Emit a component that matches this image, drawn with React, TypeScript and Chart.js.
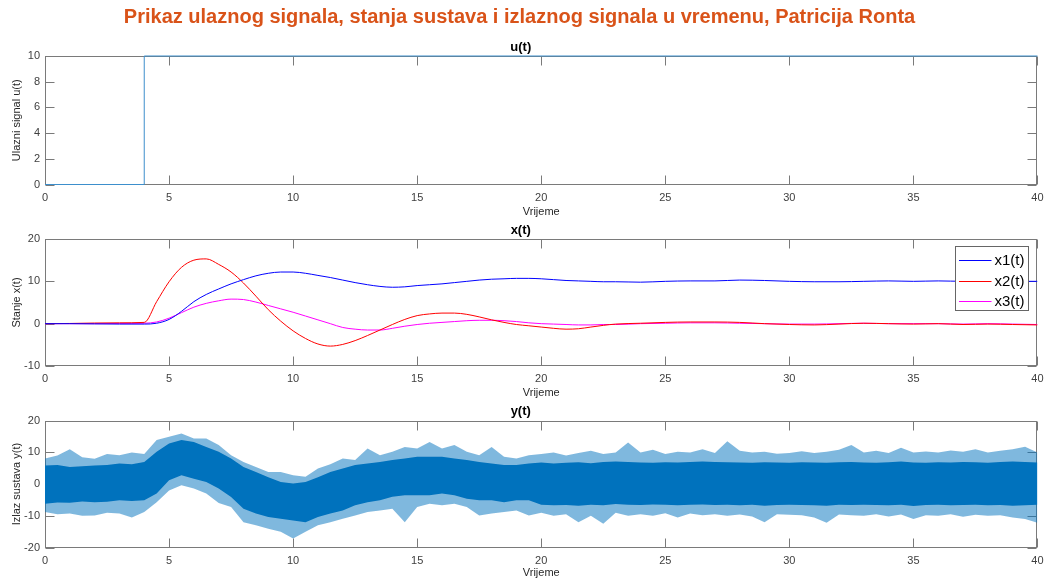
import React, { useEffect, useRef } from 'react';
import { Chart, registerables } from 'chart.js';

Chart.register(...registerables);

const FONT = '"Liberation Sans", Arial, Helvetica, sans-serif';
const MAIN_TITLE = 'Prikaz ulaznog signala, stanja sustava i izlaznog signala u vremenu, Patricija Ronta';
const X_LABEL = 'Vrijeme';
const TICK_COLOR = '#404040';
const LABEL_COLOR = '#262626';
const BOX_COLOR = '#7a7a7a';

// ---- u(t) ----
const tU = [0, 4, 4, 40];
const uVals = [0, 0, 10, 10];

// ---- x(t) ----
const tX = [0, 1, 2, 3, 4, 4.5, 5, 5.5, 6, 6.5, 7, 7.5, 8, 8.5, 9, 9.5, 10, 10.5, 11, 11.5, 12, 12.5, 13, 13.5, 14, 14.5, 15, 15.5, 16, 16.5, 17, 17.5, 18, 18.5, 19, 19.5, 20, 20.5, 21, 21.5, 22, 22.5, 23, 24, 25, 26, 27, 28, 29, 30, 31, 32, 33, 34, 35, 36, 37, 38, 39, 40];
const x1Vals = [0, 0, -0.05, -0.1, -0.1, 0.1, 1.0, 2.9, 5.2, 6.9, 8.2, 9.4, 10.4, 11.3, 11.9, 12.2, 12.2, 11.9, 11.4, 10.9, 10.3, 9.7, 9.2, 8.8, 8.6, 8.7, 9.0, 9.2, 9.4, 9.7, 10.0, 10.3, 10.5, 10.6, 10.7, 10.7, 10.6, 10.4, 10.2, 10.1, 10.0, 9.9, 9.9, 9.8, 10.0, 10.1, 10.1, 10.3, 10.2, 10.0, 9.9, 9.9, 10.0, 10.1, 10.0, 10.1, 10.0, 10.0, 10.0, 10.0];
const x2Vals = [0, 0.05, 0.15, 0.2, 0.3, 5.2, 9.9, 13.3, 15.0, 15.3, 14.0, 12.2, 9.6, 6.5, 3.3, 0.6, -1.7, -3.5, -4.8, -5.3, -4.9, -4.0, -2.8, -1.5, -0.2, 1.0, 1.9, 2.3, 2.5, 2.5, 2.2, 1.6, 0.9, 0.3, -0.2, -0.5, -0.8, -1.1, -1.3, -1.2, -0.8, -0.4, -0.1, 0.1, 0.3, 0.4, 0.4, 0.3, 0.0, -0.2, -0.3, -0.1, 0.1, 0.0, -0.1, 0.0, -0.2, -0.1, -0.2, -0.3];
const x3Vals = [0, 0, 0, 0.05, 0.1, 0.4, 1.3, 2.6, 3.9, 4.8, 5.4, 5.8, 5.7, 5.1, 4.3, 3.5, 2.7, 1.8, 0.9, 0.0, -0.9, -1.3, -1.5, -1.5, -1.1, -0.6, -0.2, 0.1, 0.3, 0.5, 0.7, 0.8, 0.8, 0.7, 0.5, 0.2, 0.0, -0.1, -0.2, -0.3, -0.3, -0.2, -0.2, 0.0, 0.1, 0.2, 0.2, 0.1, 0.0, -0.1, -0.1, 0.0, 0.1, 0.0, 0.0, 0.0, -0.1, 0.0, -0.1, -0.2];
const xSeriesLabels = ['x1(t)', 'x2(t)', 'x3(t)'];

// ---- y(t): noisy output, drawn as dense core band and spike envelope ----
const tY = [0, 0.5, 1, 1.5, 2, 2.5, 3, 3.5, 4, 4.5, 5, 5.5, 6, 6.5, 7, 7.5, 8, 8.5, 9, 9.5, 10, 10.5, 11, 11.5, 12, 12.5, 13, 13.5, 14, 14.5, 15, 15.5, 16, 16.5, 17, 17.5, 18, 18.5, 19, 19.5, 20, 20.5, 21, 21.5, 22, 22.5, 23, 23.5, 24, 24.5, 25, 25.5, 26, 26.5, 27, 27.5, 28, 28.5, 29, 29.5, 30, 30.5, 31, 31.5, 32, 32.5, 33, 33.5, 34, 34.5, 35, 35.5, 36, 36.5, 37, 37.5, 38, 38.5, 39, 39.5, 40];
const yCoreUpper = [5.9, 6.0, 5.4, 5.6, 5.9, 6.0, 6.5, 6.3, 7.0, 10.2, 12.8, 13.9, 13.3, 11.7, 10.2, 8.1, 5.4, 3.8, 2.2, 0.7, 0.2, 0.7, 2.2, 3.8, 4.9, 6.0, 6.5, 7.0, 7.6, 8.1, 8.6, 8.6, 8.6, 8.1, 7.6, 7.0, 6.5, 6.0, 6.0, 6.5, 6.8, 6.5, 6.7, 6.9, 6.6, 7.0, 7.1, 7.0, 6.8, 6.7, 6.9, 6.8, 7.0, 7.1, 7.0, 6.9, 6.8, 6.7, 6.9, 6.8, 6.7, 6.9, 6.8, 6.7, 6.9, 7.0, 6.8, 6.7, 6.9, 7.1, 6.8, 6.7, 6.9, 6.8, 7.0, 6.9, 6.7, 7.0, 7.1, 7.0, 6.8];
const yCoreLower = [-6.2, -5.8, -5.9, -5.5, -5.7, -5.6, -5.1, -5.3, -5.1, -3.0, 1.2, 2.8, 1.7, 0.7, -1.4, -4.1, -7.8, -9.3, -10.4, -10.9, -11.5, -12.0, -10.4, -9.3, -8.3, -6.7, -5.7, -5.1, -4.0, -3.5, -3.5, -3.5, -3.0, -3.5, -4.6, -5.1, -5.1, -5.7, -5.1, -5.1, -6.5, -6.7, -6.6, -6.8, -6.5, -6.7, -6.3, -6.5, -6.6, -6.4, -6.5, -6.7, -6.5, -6.4, -6.6, -6.5, -6.7, -6.5, -6.8, -6.6, -6.5, -6.6, -6.7, -6.8, -6.5, -6.6, -6.5, -6.6, -6.7, -6.5, -6.9, -6.6, -6.5, -6.7, -6.6, -6.5, -6.7, -6.6, -6.8, -6.7, -6.5];
const ySpikeUpper = [8.1, 9.0, 11.0, 8.5, 8.0, 9.5, 9.1, 10.0, 9.5, 13.9, 14.9, 16.0, 14.4, 14.4, 12.3, 9.1, 7.0, 5.4, 3.8, 3.8, 2.8, 2.3, 4.9, 6.3, 8.1, 7.6, 11.2, 9.1, 10.2, 11.7, 11.2, 13.3, 11.2, 12.3, 10.2, 9.1, 11.7, 8.6, 8.1, 9.1, 9.5, 10.0, 9.0, 9.8, 10.5, 9.5, 10.0, 13.1, 10.0, 10.8, 9.5, 10.2, 10.0, 11.0, 9.8, 13.5, 10.5, 10.0, 10.2, 9.6, 9.8, 10.4, 9.8, 10.2, 10.8, 12.3, 10.0, 10.5, 9.8, 11.5, 10.0, 10.3, 10.0, 10.6, 10.2, 11.0, 10.0, 10.5, 11.0, 11.8, 10.0];
const ySpikeLower = [-8.8, -9.5, -9.3, -10.0, -9.9, -9.0, -9.3, -10.5, -8.8, -5.7, -2.0, -0.4, -1.4, -3.0, -6.0, -7.2, -12.0, -13.0, -14.1, -15.0, -17.2, -15.0, -13.0, -12.0, -10.9, -9.9, -8.8, -8.3, -7.8, -12.0, -7.2, -6.2, -6.7, -6.2, -7.2, -9.9, -9.3, -8.8, -8.3, -9.9, -9.0, -10.0, -9.5, -12.0, -10.0, -12.5, -9.0, -10.0, -9.5, -10.0, -9.2, -10.5, -9.3, -9.8, -9.5, -10.0, -9.6, -10.2, -12.0, -9.5, -9.7, -9.8, -10.5, -12.2, -9.6, -9.8, -10.0, -9.5, -10.2, -9.6, -11.0, -9.8, -10.0, -9.5, -10.3, -9.7, -10.0, -9.8, -10.5, -11.0, -12.2];

const pts = (xs: number[], ys: number[]) => xs.map((x, i) => ({ x, y: ys[i] }));

const tickFont = { family: FONT, size: 11 };

function xScale(height: number, titlePadBottom: number) {
  return {
    type: 'linear',
    min: 0,
    max: 40,
    ticks: { stepSize: 5, padding: 6.4, color: TICK_COLOR, font: tickFont, maxRotation: 0, autoSkip: false },
    grid: { display: false, drawTicks: false },
    border: { display: false },
    title: { display: true, text: X_LABEL, color: LABEL_COLOR, font: tickFont, padding: { top: 0, bottom: titlePadBottom } },
    afterFit: (s: any) => {
      s.height = height;
    },
  };
}

function yScale(min: number, max: number, step: number, label: string) {
  return {
    type: 'linear',
    min,
    max,
    ticks: { stepSize: step, padding: 5, color: TICK_COLOR, font: tickFont },
    grid: { display: false, drawTicks: false },
    border: { display: false },
    title: { display: true, text: label, color: LABEL_COLOR, font: tickFont, padding: { top: 10.4, bottom: 0 } },
    afterFit: (s: any) => {
      s.width = 45;
    },
  };
}

function subTitle(text: string, padTop: number, padBottom: number) {
  return {
    display: true,
    text,
    color: '#000',
    font: { family: FONT, size: 13, weight: 'bold' },
    padding: { top: padTop, bottom: padBottom },
  };
}

const matlabBox = {
  id: 'matlabBox',
  beforeDatasetsDraw(chart: any) {
    const { ctx, chartArea: a } = chart;
    const xs = chart.scales.x;
    const ys = chart.scales.y;
    ctx.save();
    ctx.strokeStyle = BOX_COLOR;
    ctx.lineWidth = 1;
    const L = Math.round(a.left) + 0.5;
    const R = Math.round(a.right) - 0.5;
    const T = Math.round(a.top) + 0.5;
    const B = Math.round(a.bottom) - 0.5;
    ctx.strokeRect(L, T, R - L, B - T);
    ctx.beginPath();
    xs.ticks.forEach((t: any) => {
      const p = Math.round(xs.getPixelForValue(t.value)) + 0.5;
      ctx.moveTo(p, B);
      ctx.lineTo(p, B - 9);
      ctx.moveTo(p, T);
      ctx.lineTo(p, T + 9);
    });
    ys.ticks.forEach((t: any) => {
      const p = Math.round(ys.getPixelForValue(t.value)) + 0.5;
      ctx.moveTo(L, p);
      ctx.lineTo(L + 9, p);
      ctx.moveTo(R, p);
      ctx.lineTo(R - 9, p);
    });
    ctx.stroke();
    ctx.restore();
  },
};

const mainTitle = {
  id: 'mainTitle',
  afterDraw(chart: any) {
    const { ctx } = chart;
    ctx.save();
    ctx.font = `bold 20px ${FONT}`;
    ctx.fillStyle = '#D95319';
    ctx.textAlign = 'center';
    ctx.textBaseline = 'middle';
    ctx.fillText(MAIN_TITLE, 519.5, 17);
    ctx.restore();
  },
};

const boxLegend = {
  id: 'boxLegend',
  afterDraw(chart: any) {
    const { ctx, chartArea: a } = chart;
    const w = 73;
    const h = 64;
    const left = Math.round(a.right - 9 - w) + 0.5;
    const top = Math.round(a.top + 7) + 0.5;
    ctx.save();
    ctx.fillStyle = '#fff';
    ctx.fillRect(left, top, w, h);
    ctx.strokeStyle = '#666';
    ctx.lineWidth = 1;
    ctx.strokeRect(left, top, w, h);
    ctx.font = `15px ${FONT}`;
    ctx.textAlign = 'left';
    ctx.textBaseline = 'middle';
    const rows = [13.5, 34, 54.5];
    chart.data.datasets.forEach((ds: any, i: number) => {
      const y = Math.round(top + rows[i]) + 0.5;
      ctx.strokeStyle = ds.borderColor;
      ctx.beginPath();
      ctx.moveTo(left + 3.5, y);
      ctx.lineTo(left + 36, y);
      ctx.stroke();
      ctx.fillStyle = '#000';
      ctx.fillText(ds.label, left + 39, y);
    });
    ctx.restore();
  },
};

function buildU() {
  return {
    type: 'line',
    data: {
      datasets: [
        {
          label: 'u(t)',
          data: pts(tU, uVals),
          borderColor: '#3d8fcc',
          borderWidth: 1,
          pointRadius: 0,
          tension: 0,
          clip: false,
        },
      ],
    },
    options: {
      responsive: false,
      animation: false,
      layout: { padding: { top: 30, left: 0, right: 8.5, bottom: 0 } },
      plugins: { legend: { display: false }, tooltip: { enabled: false }, title: subTitle('u(t)', 9.2, 1.2) },
      scales: { x: xScale(40.5, 6.4), y: yScale(0, 10, 2, 'Ulazni signal u(t)') },
    },
    plugins: [matlabBox, mainTitle],
  };
}

function buildX() {
  const colors = ['#0000FF', '#FF0000', '#FF00FF'];
  const vals = [x1Vals, x2Vals, x3Vals];
  return {
    type: 'line',
    data: {
      datasets: vals.map((v, i) => ({
        label: xSeriesLabels[i],
        data: pts(tX, v),
        borderColor: colors[i],
        borderWidth: 1,
        pointRadius: 0,
        cubicInterpolationMode: 'monotone',
        fill: false,
      })),
    },
    options: {
      responsive: false,
      animation: false,
      layout: { padding: { top: 0, left: 0, right: 8.5, bottom: 0 } },
      plugins: { legend: { display: false }, tooltip: { enabled: false }, title: subTitle('x(t)', 12.2, 1.2) },
      scales: { x: xScale(39, 5.4), y: yScale(-10, 20, 10, 'Stanje x(t)') },
    },
    plugins: [matlabBox, boxLegend],
  };
}

function buildY() {
  const band = (label: string, v: number[], fill: any, color: string) => ({
    label,
    data: pts(tY, v),
    borderWidth: 0,
    borderColor: color,
    backgroundColor: color,
    pointRadius: 0,
    tension: 0,
    fill,
  });
  return {
    type: 'line',
    data: {
      datasets: [
        band('y core upper', yCoreUpper, 1, '#0072BD'),
        band('y core lower', yCoreLower, false, '#0072BD'),
        band('y spike upper', ySpikeUpper, 3, 'rgba(0,114,189,0.5)'),
        band('y spike lower', ySpikeLower, false, 'rgba(0,114,189,0.5)'),
      ],
    },
    options: {
      responsive: false,
      animation: false,
      layout: { padding: { top: 0, left: 0, right: 8.5, bottom: 0 } },
      plugins: { legend: { display: false }, tooltip: { enabled: false }, title: subTitle('y(t)', 13.2, 1.9) },
      scales: { x: xScale(32.5, 0), y: yScale(-20, 20, 10, 'Izlaz sustava y(t)') },
    },
    plugins: [matlabBox],
  };
}

function Panel({ top, height, build }: { top: number; height: number; build: () => any }) {
  const ref = useRef<HTMLCanvasElement>(null);
  useEffect(() => {
    const chart = new Chart(ref.current as HTMLCanvasElement, build());
    return () => chart.destroy();
  }, []);
  return (
    <canvas
      ref={ref}
      width={1050}
      height={height}
      style={{ position: 'absolute', left: 0, top, width: 1050, height }}
    />
  );
}

export default function App() {
  return (
    <div style={{ position: 'fixed', left: 0, top: 0, width: 1050, height: 580, background: '#fff', overflow: 'hidden' }}>
      <Panel top={0} height={225} build={buildU} />
      <Panel top={210} height={195} build={buildX} />
      <Panel top={390} height={190} build={buildY} />
    </div>
  );
}
